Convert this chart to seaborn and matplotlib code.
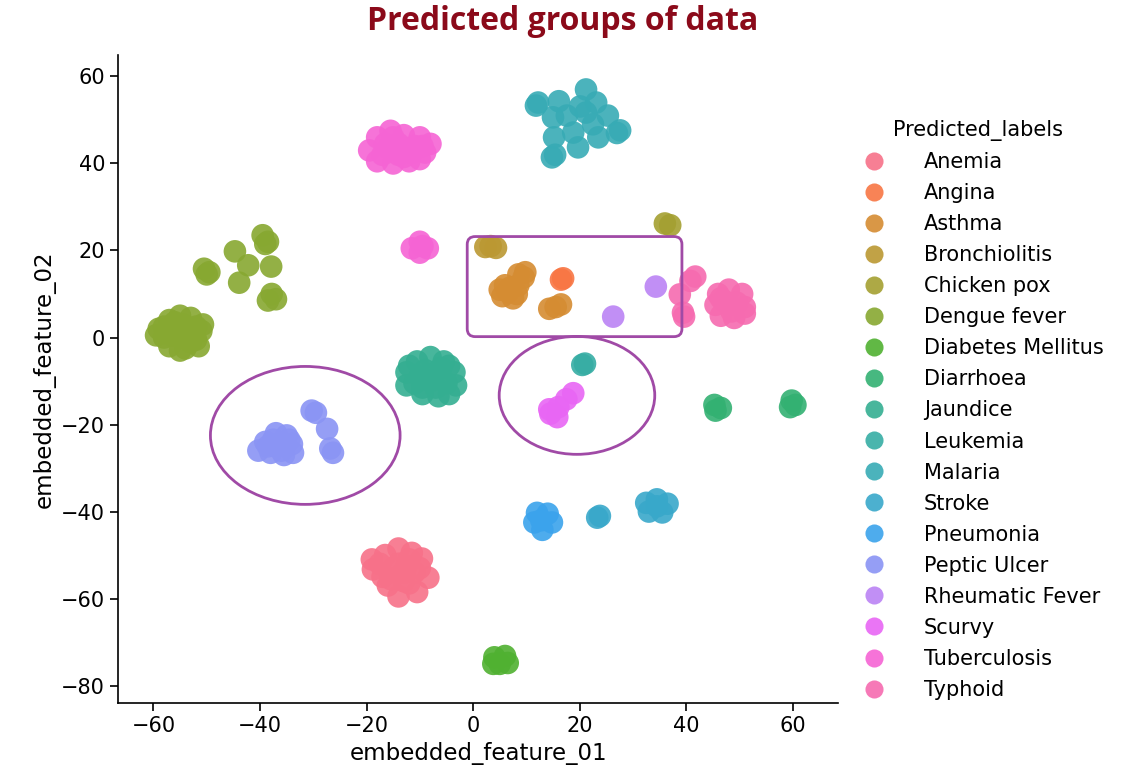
#!/usr/bin/env python3
# -*- coding: utf-8 -*-
"""
Scatter of the 2-D embedding coloured by predicted disease label,
with the misgrouped regions marked by hand.
"""

#%% Imports

import pandas as pd
import seaborn as sns
from matplotlib import pyplot as plt
from matplotlib.patches import Ellipse, FancyBboxPatch

#%% Data

LABELS = ['Anemia', 'Angina', 'Asthma', 'Bronchiolitis', 'Chicken pox', 'Dengue fever',
          'Diabetes Mellitus', 'Diarrhoea', 'Jaundice', 'Leukemia', 'Malaria', 'Stroke',
          'Pneumonia', 'Peptic Ulcer', 'Rheumatic Fever', 'Scurvy', 'Tuberculosis', 'Typhoid']

anemia_x = [-14, -19, -16.5, -11.5, -9.6, -18.8, -15, -12.5, -8.4, -16, -13, -10.5, -14, -17, -11,
            -14, -12, -15.5, -12, -17.5, -10, -13]
anemia_y = [-48.5, -51, -50, -49.5, -50.8, -53.3, -53, -52.5, -55.2, -57, -56, -58.5, -59.5, -55, -54,
            -52, -51, -55.5, -56.5, -52, -53, -54]

angina_x = [16.9, 16.5]
angina_y = [13.6, 13.3]

asthma_x = [5.5, 7, 8.2, 6, 7.5, 8.5, 5, 6.5, 8.5, 9.8, 9.5, 14.3, 16.5, 15.5]
asthma_y = [9.5, 11.5, 10, 12, 9, 12, 11, 10.5, 14.5, 15, 13.8, 6.6, 7.6, 7]

bronch_x = [2.3, 4.3, 3.3]
bronch_y = [20.8, 20.6, 21]

chickenpox_x = [36, 37]
chickenpox_y = [26.2, 25.8]

dengue_x = [-55, -57, -53, -59, -56, -53, -51, -58, -55, -52, -57, -54, -51.5, -55, -59.5, -50.7,
            -56.5, -54, -53, -56, -54.5, -52, -58,
            -39.5, -38.5, -39, -44.7, -50.5, -49.5, -50, -42.2, -37.9, -43.9, -37.8, -37, -38.5]
dengue_y = [5, 4, 4.5, 2, 2, 2, 1.5, 0, 0, -0.5, -2, -2.5, -2, -3, 0.5, 3,
            0.5, 0.5, -1, 3.5, 3, 2.5, 2.5,
            23.5, 22, 21.5, 19.8, 15.8, 15, 14.5, 16.6, 16.3, 12.6, 10, 8.8, 8.5]

diabetes_x = [4, 6, 5, 6.5, 3.8]
diabetes_y = [-73.5, -73.2, -75, -74.8, -75]

diarrhoea_x = [45.3, 46.5, 45.5, 59.8, 60.5, 59.5]
diarrhoea_y = [-15.5, -16.2, -16.8, -14.5, -15.5, -16]

jaundice_x = [-8, -10.5, -5.5, -12.5, -9, -6, -3.5, -11, -8, -5, -3.2, -12.5, -9.5, -6.5, -4.5,
              -8, -10, -6.5, -9.5, -7, -4.5, -12]
jaundice_y = [-4.5, -5.5, -5.5, -8, -7.5, -7, -8, -10.5, -10, -10.5, -11, -11, -13, -13.5, -13,
              -8.5, -9, -9, -11.5, -11.5, -6.5, -6.5]

leukemia_x = [21, 20.5]
leukemia_y = [-6, -6.3]

malaria_x = [12.2, 11.8, 16.1, 21.2, 20.1, 23.1, 15, 17.6, 21.2, 25.3, 22.5, 27.6, 27, 15.2, 18.8,
             23.5, 19.7, 14.8, 15.4]
malaria_y = [54, 53.3, 54.3, 57, 53.1, 54, 50.6, 51, 51.7, 51, 49, 47.6, 47, 46, 47.1,
             46, 43.7, 41.4, 42]

stroke_x = [23.3, 23.8, 32.5, 34.5, 36.5, 33, 35.5, 34.5]
stroke_y = [-41.4, -41, -38, -37.2, -38.2, -40, -40.2, -38.8]

pneumonia_x = [12, 14, 11.5, 14.8, 13, 12.8]
pneumonia_y = [-40.3, -40.5, -42.5, -42.5, -44.2, -42]

peptic_x = [-37, -35, -39, -36.5, -34, -40.3, -38, -35.5, -33.8, -37, -37.5, -36, -38.5, -34.5,
            -30.3, -29.5, -27.4, -26.8, -26.3]
peptic_y = [-22, -22.5, -24, -24.5, -24.5, -26, -26.5, -27, -26.5, -25, -23.5, -26, -25, -23.5,
            -16.8, -17.3, -21, -25.5, -26.5]

rheumatic_x = [34.3, 26.3]
rheumatic_y = [11.7, 4.8]

scurvy_x = [18.8, 17.5, 16, 14.5, 15.8, 14.3]
scurvy_y = [-12.8, -14.2, -16, -17.5, -18.3, -16.5]

tuberc_x = [-15.5, -18, -13, -10, -8, -19.5, -16, -12.5, -9, -18, -15, -12, -10, -16.5, -11, -14,
            -14, -17, -13, -11.5, -15, -9.5,
            -10, -11.5, -8.5, -10, -9.5]
tuberc_y = [47.5, 46, 46.5, 46, 44.5, 43, 43.5, 43.5, 42.5, 40.5, 40, 40.5, 41, 44.5, 44, 42,
            44.5, 42, 41.5, 42.5, 46, 44,
            22, 20.5, 20.5, 19.5, 21]

typhoid_x = [41.7, 40.8, 38.8, 39.4, 39.6, 46, 48, 50.5, 45.5, 48, 51, 46.5, 49, 51,
             47, 49.5, 48.5, 46.5]
typhoid_y = [14, 13, 9.9, 5.7, 4.8, 10, 11, 10, 7.5, 7.5, 7, 5, 4.5, 5.5,
             8.5, 8, 6, 9]

SERIES_X = [anemia_x, angina_x, asthma_x, bronch_x, chickenpox_x, dengue_x, diabetes_x,
            diarrhoea_x, jaundice_x, leukemia_x, malaria_x, stroke_x, pneumonia_x, peptic_x,
            rheumatic_x, scurvy_x, tuberc_x, typhoid_x]
SERIES_Y = [anemia_y, angina_y, asthma_y, bronch_y, chickenpox_y, dengue_y, diabetes_y,
            diarrhoea_y, jaundice_y, leukemia_y, malaria_y, stroke_y, pneumonia_y, peptic_y,
            rheumatic_y, scurvy_y, tuberc_y, typhoid_y]

MARK_COLOUR = '#a04aa6'

#%% Main

if __name__ == '__main__':

    frames = []
    for lab, xs, ys in zip(LABELS, SERIES_X, SERIES_Y):
        frames.append(pd.DataFrame({'embedded_feature_01': xs,
                                    'embedded_feature_02': ys,
                                    'Predicted_labels': lab}))
    df = pd.concat(frames, ignore_index=True)

    sns.set_style('ticks')
    plt.rcParams['font.family'] = ['DejaVu Sans']
    plt.rcParams['text.color'] = 'black'
    plt.rcParams['axes.labelcolor'] = 'black'

    fig = plt.figure(figsize=(11.48, 7.7), dpi=100)
    ax = fig.add_axes([0.103, 0.087, 0.627, 0.842])

    sns.scatterplot(data=df, x='embedded_feature_01', y='embedded_feature_02',
                    hue='Predicted_labels', hue_order=LABELS,
                    palette=sns.color_palette('husl', len(LABELS)),
                    s=265, alpha=0.9, linewidth=0, ax=ax)

    # hand-drawn marks around the mixed-up groups
    ax.add_patch(Ellipse((-31.5, -22.5), 35.6, 31.7, fill=False, ec=MARK_COLOUR, lw=2))
    ax.add_patch(Ellipse((19.5, -13.3), 29.2, 27.1, fill=False, ec=MARK_COLOUR, lw=2))
    ax.add_patch(FancyBboxPatch((-1.1, 0.2), 40.3, 23.0, boxstyle='round,pad=0,rounding_size=1.5',
                                fill=False, ec=MARK_COLOUR, lw=2, mutation_aspect=1.2))

    ax.set_xlim(-66.6, 68.5)
    ax.set_ylim(-84, 65)
    ax.set_xticks([-60, -40, -20, 0, 20, 40, 60])
    ax.set_yticks([-80, -60, -40, -20, 0, 20, 40, 60])
    ax.tick_params(labelsize=15, length=6, width=1.2, colors='black')
    ax.set_xlabel('embedded_feature_01', fontsize=16.5)
    ax.set_ylabel('embedded_feature_02', fontsize=16.5)
    sns.despine(ax=ax)
    for sp in ax.spines.values():
        sp.set_linewidth(1.2)
        sp.set_color('black')

    sns.move_legend(ax, 'center left', bbox_to_anchor=(0.995, 0.452), frameon=False,
                    title='Predicted_labels', fontsize=15, title_fontsize=15,
                    markerscale=0.8, handletextpad=1.4, labelspacing=0.53)

    fig.text(0.49, 0.972, 'Predicted groups of data', ha='center', va='center',
             fontsize=23, fontweight='bold', color='#8b0a1a', family='Open Sans')

    plt.savefig('out.png', dpi=100)
    plt.close()
